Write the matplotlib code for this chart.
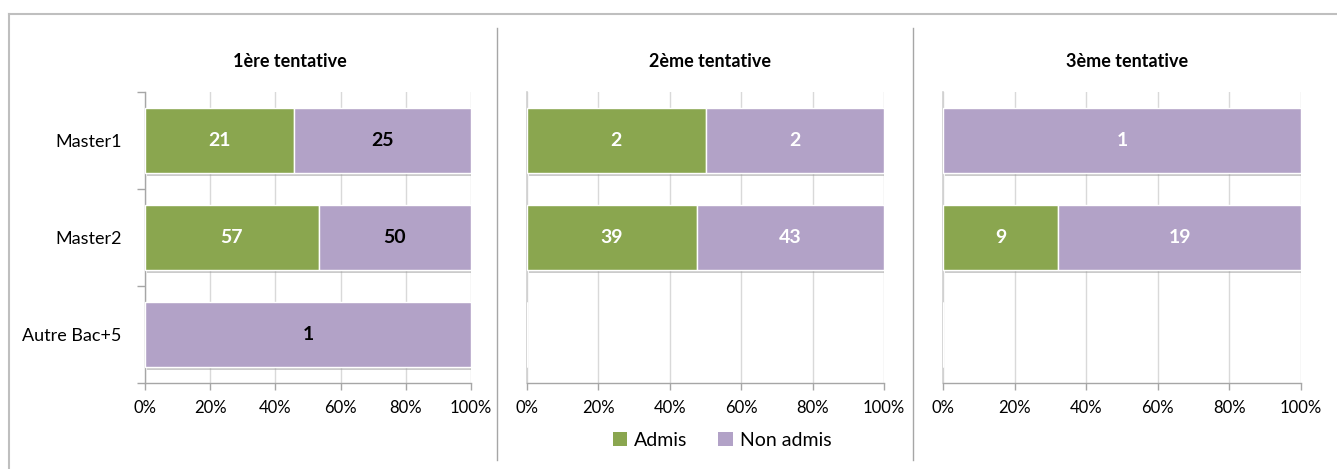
import matplotlib
matplotlib.use("Agg")
import matplotlib.pyplot as plt
import numpy as np
from matplotlib.lines import Line2D
from matplotlib.patches import Patch
from matplotlib.ticker import FixedLocator, PercentFormatter
import matplotlib.patheffects as pe

plt.rcParams['font.family'] = ['Lato', 'DejaVu Sans']

categories = ['Master1', 'Master2', 'Autre Bac+5']
titles = ['1ère tentative', '2ème tentative', '3ème tentative']
admis = [[21, 57, 0], [2, 39, 0], [0, 9, 0]]
non_admis = [[25, 50, 1], [2, 43, 0], [1, 19, 0]]
series_names = ['Admis', 'Non admis']
xticks = [0, 0.2, 0.4, 0.6, 0.8, 1.0]

GREEN = '#8AA64F'
PURPLE = '#B2A2C7'
GRID = '#D9D9D9'
AXIS = '#A6A6A6'

W, H = 1337, 469
fig = plt.figure(figsize=(W / 100, H / 100), dpi=100)

def fx(px):
    return px / W

def fy(py):
    return 1 - py / H

panel_x = [(145, 471), (527, 884), (943, 1301)]
y_top, y_bot = 92, 383
title_x = [290, 710, 1127]

shadow = [pe.SimplePatchShadow(offset=(1.2, -1.5), shadow_rgbFace='#999999', alpha=0.5), pe.Normal()]

for i, (x0, x1) in enumerate(panel_x):
    ax = fig.add_axes([fx(x0), fy(y_bot), fx(x1 - x0), (y_bot - y_top) / H])
    a = np.array(admis[i], dtype=float)
    n = np.array(non_admis[i], dtype=float)
    tot = a + n
    with np.errstate(invalid='ignore', divide='ignore'):
        pa = np.where(tot > 0, a / tot, 0)
        pn = np.where(tot > 0, n / tot, 0)
    y = np.arange(len(categories))
    b1 = ax.barh(y, pa, height=0.68, color=GREEN, edgecolor='white', linewidth=1, zorder=3)
    b2 = ax.barh(y, pn, left=pa, height=0.68, color=PURPLE, edgecolor='white', linewidth=1, zorder=3)
    for bars in (b1, b2):
        for r in bars:
            if r.get_width() > 0:
                r.set_path_effects(shadow)
    for j in range(len(categories)):
        if a[j] > 0:
            ax.text(pa[j] / 2, y[j], f'{int(a[j])}', ha='center', va='center',
                    color='white', fontsize=14, fontweight='bold', zorder=5)
        if n[j] > 0:
            col = 'black' if i == 0 else 'white'
            ax.text(pa[j] + pn[j] / 2, y[j], f'{int(n[j])}', ha='center', va='center',
                    color=col, fontsize=14, fontweight='bold', zorder=5)
    ax.set_xlim(0, 1)
    ax.set_ylim(len(categories) - 0.5, -0.5)
    ax.xaxis.set_major_locator(FixedLocator(xticks))
    ax.xaxis.set_major_formatter(PercentFormatter(1.0, decimals=0))
    ax.grid(axis='x', color=GRID, linewidth=1, zorder=0)
    ax.set_axisbelow(True)
    for s in ['top', 'right']:
        ax.spines[s].set_visible(False)
    ax.spines['bottom'].set_color(AXIS)
    ax.spines['bottom'].set_linewidth(1)
    ax.tick_params(axis='x', colors=AXIS, length=5, width=1, labelcolor='black', labelsize=12, pad=7)
    if i == 0:
        ax.spines['left'].set_color(AXIS)
        ax.spines['left'].set_linewidth(1)
        ax.set_yticks(y)
        ax.set_yticklabels(categories, fontsize=13)
        ax.tick_params(axis='y', which='major', length=0, pad=17)
        ax.set_yticks(np.arange(len(categories) + 1) - 0.5, minor=True)
        ax.tick_params(axis='y', which='minor', length=6, color=AXIS, width=1)
    else:
        ax.spines['left'].set_color('#D0D0D0')
        ax.spines['left'].set_linewidth(1.2)
        ax.set_yticks([])
    fig.text(fx(title_x[i]), fy(61), titles[i], ha='center', va='center',
             fontsize=13, fontweight='bold')

# outer border and separators
fig.add_artist(Line2D([fx(9), fx(W)], [fy(14), fy(14)], color='#BFBFBF', linewidth=1.5))
fig.add_artist(Line2D([fx(9), fx(9)], [fy(14), fy(H)], color='#BFBFBF', linewidth=1.5))
for sx in (497, 913):
    fig.add_artist(Line2D([fx(sx), fx(sx)], [fy(28), fy(460)], color='#A6A6A6', linewidth=1))

handles = [Patch(facecolor=GREEN, edgecolor='none'), Patch(facecolor=PURPLE, edgecolor='none')]
fig.legend(handles, series_names, loc='center', bbox_to_anchor=(fx(722), fy(440)), ncol=2,
           frameon=False, fontsize=14, handlelength=0.75, handleheight=0.75,
           handletextpad=0.35, columnspacing=1.6)

fig.savefig('out.png', dpi=100)
